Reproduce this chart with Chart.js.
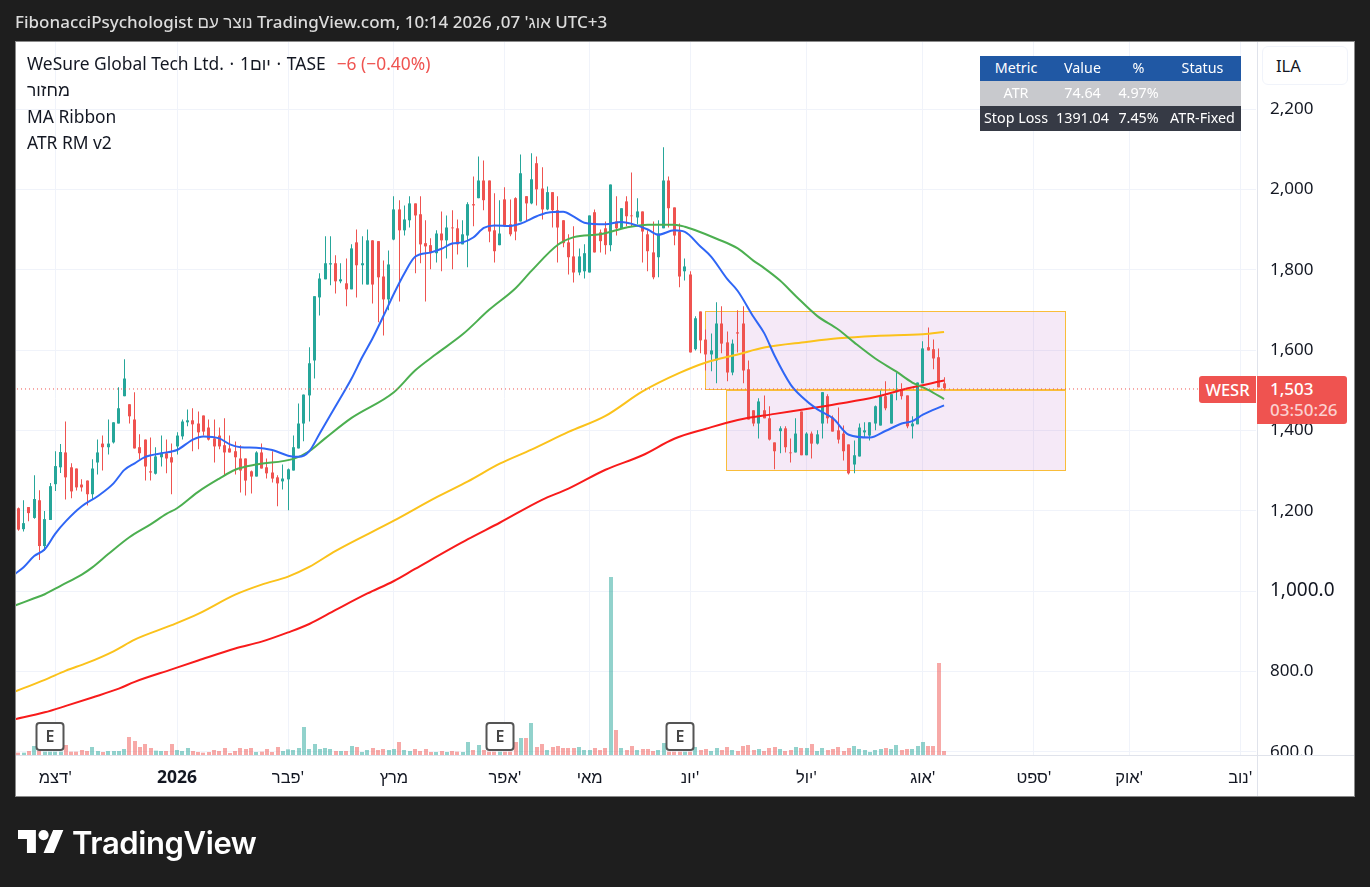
<!DOCTYPE html>
<html>
<head>
<meta charset="utf-8">
<script src="https://cdn.jsdelivr.net/npm/chart.js@4"></script>
<style>
html,body{margin:0;padding:0;width:1370px;height:887px;overflow:hidden;background:#1e1e1e;font-family:"Noto Sans","Liberation Sans",sans-serif;}
.abs{position:absolute;white-space:nowrap;}
#panel{left:15px;top:41px;width:1338px;height:754px;background:#fff;border:1px solid #8a8a8a;}
canvas{position:absolute;left:0;top:0;}
#title{left:15px;top:11px;color:#dcdcdc;font-size:17px;line-height:22px;font-weight:500;}
.leg{left:27px;color:#131722;font-size:17.4px;line-height:26px;}
.leg .chg{color:#ef5350;margin-left:11px;}
.leg .sep{margin:0 1.2px;}
.tb{position:absolute;height:25px;line-height:24px;text-align:center;font-size:14.3px;white-space:nowrap;}
.hd{background:#2058a4;color:#fff;}
.g{background:#c8c9cd;color:#fff;}
.dk{background:#363a45;color:#fff;}
</style>
</head>
<body>
<div class="abs" id="panel"></div>
<canvas id="c" width="1370" height="887"></canvas>

<div class="abs" id="title">FibonacciPsychologist נוצר עם TradingView.com, אוג' 07, 2026 10:14 UTC+3</div>
<div class="abs leg" style="top:50px">WeSure Global Tech Ltd. <span class="sep">·</span> 1יום <span class="sep">·</span> TASE<span class="chg">−6 (−0.40%)</span></div>
<div class="abs leg" style="top:76px">מחזור</div>
<div class="abs leg" style="top:103px">MA Ribbon</div>
<div class="abs leg" style="top:129px">ATR RM v2</div>

<div class="tb hd" style="left:980px;top:56px;width:72px">Metric</div>
<div class="tb hd" style="left:1052px;top:56px;width:61px">Value</div>
<div class="tb hd" style="left:1113px;top:56px;width:51px">%</div>
<div class="tb hd" style="left:1164px;top:56px;width:77px">Status</div>
<div class="tb g" style="left:980px;top:81px;width:72px">ATR</div>
<div class="tb g" style="left:1052px;top:81px;width:61px">74.64</div>
<div class="tb g" style="left:1113px;top:81px;width:51px">4.97%</div>
<div class="tb g" style="left:1164px;top:81px;width:77px"></div>
<div class="tb dk" style="left:980px;top:106px;width:72px">Stop Loss</div>
<div class="tb dk" style="left:1052px;top:106px;width:61px">1391.04</div>
<div class="tb dk" style="left:1113px;top:106px;width:51px">7.45%</div>
<div class="tb dk" style="left:1164px;top:106px;width:77px">ATR-Fixed</div>

<div class="abs" style="left:1257px;top:42px;width:1px;height:754px;background:#e0e3eb"></div>
<div class="abs" style="left:16px;top:755px;width:1338px;height:1px;background:#e0e3eb"></div>
<div class="abs" style="left:1258px;top:756px;width:96px;height:40px;background:#fff"></div>

<div class="abs" style="left:1262px;top:46px;width:84px;height:37px;border:1px solid #f0f3fa;border-radius:6px;background:#fff;color:#131722;font-size:16.5px;line-height:37px;text-indent:13px">ILA</div>

<div class="abs" style="left:1199px;top:376px;width:57px;height:27px;background:#ef5350;border-radius:3px 0 0 3px;color:#fff;font-size:16.5px;line-height:27px;text-align:center;font-weight:500">WESR</div>
<div class="abs" style="left:1257px;top:376px;width:90px;height:48px;background:#ef5350;border-radius:0 3px 3px 0;color:#fff;font-size:17px;font-weight:500">
  <div style="position:absolute;left:13px;top:2px;line-height:22px">1,503</div>
  <div style="position:absolute;left:13px;top:23px;line-height:22px;color:#fbd0cf">03:50:26</div>
</div>

<svg class="abs" style="left:18px;top:830px" width="46" height="23" viewBox="0 4 36 18"><path fill="#fff" d="M14 22H7V11H0V4h14v18zM28 22h-8l7.5-18h8L28 22z"/><circle fill="#fff" cx="20" cy="8" r="4"/></svg>
<div class="abs" style="left:72px;top:822px;color:#fff;font-size:31px;line-height:42px;font-weight:600;font-family:Inter,sans-serif;letter-spacing:-0.4px">TradingView</div>

<script>
const opens=[1204,1152,1207,1180,1224,1110,1175,1264,1306,1343,1306,1303,1263,1273,1239,1318,1365,1356,1368,1415,1483,1463,1425,1356,1375,1296,1290,1331,1341,1331,1358,1383,1418,1423,1415,1435,1405,1378,1385,1361,1353,1346,1328,1328,1296,1283,1343,1306,1293,1281,1271,1276,1298,1353,1415,1485,1572,1729,1774,1811,1814,1769,1764,
1749,1866,1809,1761,1871,1869,1781,1724,1873,1948,1896,1921,1963,1936,1864,1859,1839,1888,1871,1903,1901,1861,1883,1961,1976,2020,2020,1896,1859,1973,1911,1976,1918,1981,1963,2063,2000,1948,1991,1946,1921,1866,1831,1791,1794,1791,1941,1891,1901,1859,1918,1901,1968,1933,1928,1943,1886,
1841,1829,1901,2020,1953,1893,1794,1786,1600,1694,1624,1587,1572,1664,1617,1542,1642,1664,1550,1448,1415,1448,1428,1368,1396,1403,1343,1343,1445,1336,1390,1365,1415,1483,1430,1398,1390,1363,1313,1333,1393,1385,1415,1410,1483,1415,1493,1500,1485,1408,1413,1515,1605,1600,1580,1515];
const highs=[1206,1224,1207,1286,1249,1197,1267,1346,1364,1420,1316,1303,1276,1273,1326,1375,1385,1425,1418,1505,1575,1463,1493,1388,1375,1380,1356,1385,1375,1365,1393,1425,1450,1453,1445,1435,1425,1425,1405,1428,1385,1370,1361,1328,1298,1346,1365,1328,1346,1286,1313,1303,1385,1465,1487,1605,1732,1789,1881,1881,1834,1814,1826,
1861,1898,1881,1898,1871,1869,1821,1846,1981,1971,1958,1981,1963,1981,1921,1876,1896,1943,1933,1946,1923,1921,1966,2030,2080,2070,2020,1988,1971,2003,1973,1978,2085,1981,2088,2080,2053,2005,1991,1981,1921,1886,1906,1851,1861,1933,1948,1898,1918,2010,1981,1951,1981,2040,1976,1943,1896,
1918,1921,2103,2030,1953,1913,1826,1794,1682,1694,1649,1639,1717,1707,1644,1624,1697,1707,1572,1448,1478,1485,1458,1368,1408,1408,1378,1428,1445,1393,1395,1398,1493,1488,1435,1455,1410,1363,1373,1415,1418,1418,1460,1497,1520,1488,1542,1515,1485,1433,1517,1620,1654,1624,1602,1530];
const lows=[1148,1146,1172,1178,1075,1098,1175,1247,1292,1226,1229,1248,1246,1211,1226,1288,1298,1338,1365,1415,1483,1415,1353,1326,1273,1273,1288,1308,1291,1239,1338,1375,1408,1346,1351,1385,1373,1318,1351,1286,1343,1288,1243,1236,1241,1283,1303,1278,1268,1209,1251,1199,1298,1353,1371,1420,1527,1684,1774,1759,1739,1764,1707,
1749,1729,1761,1761,1714,1667,1634,1697,1871,1719,1883,1903,1789,1814,1719,1799,1816,1794,1826,1799,1836,1861,1804,1906,1976,1946,1866,1816,1859,1904,1881,1871,1918,1921,1961,1958,1923,1946,1903,1816,1854,1786,1766,1784,1776,1791,1841,1841,1836,1844,1883,1901,1906,1906,1911,1816,1794,
1774,1779,1901,1903,1859,1754,1771,1592,1597,1590,1547,1545,1515,1590,1520,1535,1592,1515,1425,1408,1378,1428,1373,1301,1341,1343,1318,1343,1336,1336,1328,1363,1378,1415,1395,1365,1323,1288,1291,1333,1380,1373,1398,1410,1448,1415,1473,1475,1403,1378,1413,1515,1597,1550,1505,1497];
const closes=[1151,1167,1192,1227,1110,1177,1259,1309,1344,1281,1246,1256,1256,1239,1303,1343,1356,1365,1418,1453,1527,1433,1353,1341,1308,1293,1333,1341,1328,1318,1385,1420,1423,1413,1393,1395,1375,1358,1358,1343,1343,1331,1298,1273,1283,1343,1303,1291,1278,1266,1278,1301,1356,1415,1487,1565,1732,1776,1814,1814,1769,1774,1749,
1851,1809,1814,1871,1761,1779,1724,1811,1948,1896,1923,1963,1933,1861,1856,1839,1888,1871,1903,1901,1861,1886,1961,1958,2020,1971,1893,1844,1888,1906,1886,1893,2038,1963,2023,1998,1948,1991,1946,1903,1864,1829,1791,1831,1839,1933,1841,1869,1859,2010,1901,1951,1931,1931,1943,1893,1844,
1779,1888,2020,1951,1883,1781,1806,1592,1677,1622,1587,1597,1664,1614,1542,1614,1639,1547,1425,1415,1470,1428,1375,1346,1403,1356,1341,1390,1336,1390,1365,1388,1493,1428,1395,1375,1346,1291,1336,1405,1398,1418,1458,1483,1453,1488,1498,1483,1408,1415,1517,1602,1597,1577,1505,1503];
const volumes=[7,7,12,27,12,10,10,10,10,30,10,10,15,12,24,12,9,12,12,12,18,54,42,24,33,21,13,12,12,33,15,12,21,12,9,7,9,15,12,21,6,12,21,18,21,9,10,18,9,24,12,17,15,21,84,18,33,18,21,18,12,12,12,27,24,9,15,21,15,18,15,18,39,15,12,18,12,18,9,9,12,9,12,10,9,39,15,30,15,10,10,10,10,10,39,51,51,96,24,33,15,24,27,21,21,21,24,15,15,21,15,21,534,75,21,15,27,15,18,18,12,15,36,10,10,10,10,10,24,15,18,12,21,15,24,15,12,27,30,15,18,12,21,24,18,12,15,24,21,21,33,12,21,15,18,24,12,21,27,18,15,9,15,18,21,18,30,15,18,18,27,39,27,27,276,12];

const blueX=[-1,1,3,5,7,9,12,15,18,20,22,24,27,30,33,35,38,40,42,45,48,51,53,55,57,59,61,63,65,67,69,71,73,75,78,80,82,84,86,88,90,93,95,98,100,103,105,107,111,114,116,119,121,124,126,129,131,134,136,139,141,143,146,148,151,154,157,161,164,167,169,171,175];
const blueY=[1037,1057,1085,1102,1141,1172,1209,1234,1266,1299,1316,1332,1341,1349,1375,1383,1378,1363,1356,1355,1349,1335,1332,1346,1391,1436,1481,1527,1580,1628,1682,1738,1789,1830,1841,1850,1863,1866,1878,1902,1908,1907,1913,1931,1940,1942,1930,1915,1911,1917,1912,1898,1885,1896,1892,1855,1830,1775,1745,1680,1640,1583,1512,1483,1451,1428,1387,1380,1397,1415,1421,1437,1460];
const greenX=[-1,3,5,8,12,14,17,21,25,28,30,34,38,41,45,52,55,58,63,71,75,79,84,89,94,97,102,105,110,115,119,124,126,128,132,136,139,141,144,147,151,155,158,162,166,169,172,175];
const greenY=[960,980,990,1011,1039,1057,1090,1132,1164,1190,1204,1245,1278,1300,1313,1327,1346,1378,1429,1493,1547,1588,1637,1698,1752,1795,1860,1879,1886,1903,1910,1910,1905,1896,1875,1851,1820,1802,1771,1732,1683,1649,1617,1577,1544,1517,1499,1476];
const yellowX=[-1,5,9,13,18,22,29,34,41,46,51,55,60,71,79,85,91,97,104,111,118,125,130,136,141,149,155,162,171,175];
const yellowY=[746,777,800,819,848,877,913,941,989,1014,1034,1058,1098,1173,1231,1271,1315,1350,1394,1434,1495,1541,1567,1587,1604,1618,1627,1633,1637,1643];
const redX=[-1,5,9,14,19,22,29,34,41,46,51,55,60,66,71,75,85,91,99,104,111,118,124,130,136,143,149,155,162,168,175];
const redY=[678,696,712,733,755,772,803,825,855,872,895,916,951,992,1023,1053,1127,1168,1225,1253,1300,1336,1377,1402,1424,1439,1451,1464,1481,1502,1522];

const priceTicks=[600,800,1000,1200,1400,1600,1800,2000,2200];
const priceLabels=['600.0','800.0','1,000.0','1,200','1,400','1,600','1,800','2,000','2,200'];
const monthTicks=[7,30,51,71,92,108,127,149,171,192,210,231];
const monthLabels=["דצמ'","2026","פבר'","מרץ","אפר'","מאי","יונ'","יול'","אוג'","ספט'","אוק'","נוב'"];
const earningsBars=[6,91,125];
const zoneBoxes=[[130,198,1695,1500],[134,198,1498,1299]];
const lastPrice=1503;
const priceLineEnd=223;
const READ_OFFSET=2; // calibration of the picture-read prices against the price axis

const FONT='"Noto Sans","Liberation Sans",sans-serif';
const UP='#26a69a',DOWN='#ef5350';
const candleColor=closes.map((c,i)=>c>=opens[i]?UP:DOWN);
const volColor=closes.map((c,i)=>c>=opens[i]?'rgba(38,166,154,0.5)':'rgba(239,83,80,0.5)');
const pts=(xs,ys)=>xs.map((x,i)=>({x,y:ys[i]+READ_OFFSET}));
const ln=(label,xs,ys,color)=>({type:'line',label,data:pts(xs,ys),borderColor:color,borderWidth:2,pointRadius:0,cubicInterpolationMode:'monotone',order:2,yAxisID:'y',xAxisID:'x'});

const snapBars={id:'snapBars',afterDatasetsUpdate(chart){
  chart.data.datasets.forEach((d,i)=>{
    if(d.type!=='bar')return;
    chart.getDatasetMeta(i).data.forEach(el=>{
      el.x=d.barThickness%2===1?Math.floor(el.x)+0.5:Math.round(el.x);
    });
  });
}};
const zones={id:'zones',beforeDatasetsDraw(chart){
  const {ctx,scales:{x,y}}=chart;
  ctx.save();
  zoneBoxes.forEach(([a,b,t,u])=>{
    const l=Math.round(x.getPixelForValue(a))-0.5,r=Math.round(x.getPixelForValue(b))-0.5;
    const tp=Math.round(y.getPixelForValue(t))-0.5,bt=Math.round(y.getPixelForValue(u))-0.5;
    ctx.fillStyle='rgba(156,39,176,0.1)';
    ctx.fillRect(l,tp,r-l,bt-tp);
    ctx.strokeStyle='#f9bd3a';ctx.lineWidth=1;
    ctx.strokeRect(l,tp,r-l,bt-tp);
  });
  ctx.restore();
}};
const earnings={id:'earnings',afterDatasetsDraw(chart){
  const {ctx,scales:{x}}=chart;
  ctx.save();
  earningsBars.forEach(i=>{
    const cx=Math.round(x.getPixelForValue(i));
    ctx.beginPath();ctx.roundRect(cx-13.5,723,27,27,3);
    ctx.fillStyle='#fff';ctx.fill();
    ctx.strokeStyle='#555';ctx.lineWidth=2;ctx.stroke();
    ctx.fillStyle='#444';ctx.font='600 16px '+FONT;
    ctx.textAlign='center';ctx.textBaseline='middle';
    ctx.fillText('E',cx,737);
  });
  ctx.restore();
}};

new Chart(document.getElementById('c'),{
  data:{datasets:[
    {type:'line',label:'Last',data:[{x:-1,y:lastPrice},{x:priceLineEnd,y:lastPrice}],borderColor:'#ef5350',borderWidth:1,borderDash:[1,3],pointRadius:0,order:1,yAxisID:'y',xAxisID:'x'},
    ln('MA20',blueX,blueY,'#2f66f5'),
    ln('MA50',greenX,greenY,'#4caf50'),
    ln('MA100',yellowX,yellowY,'#fbc21b'),
    ln('MA200',redX,redY,'#f81b1b'),
    {type:'bar',label:'Body',grouped:false,barThickness:3,inflateAmount:0,data:opens.map((o,i)=>({x:i,y:[o+READ_OFFSET,closes[i]+READ_OFFSET]})),backgroundColor:candleColor,order:3,yAxisID:'y',xAxisID:'x'},
    {type:'bar',label:'Wick',grouped:false,barThickness:1,inflateAmount:0,data:highs.map((h,i)=>({x:i,y:[lows[i]+READ_OFFSET,h+READ_OFFSET]})),backgroundColor:candleColor,order:4,yAxisID:'y',xAxisID:'x'},
    {type:'bar',label:'Volume',grouped:false,barThickness:4,inflateAmount:0,data:volumes.map((v,i)=>({x:i,y:v})),backgroundColor:volColor,order:5,yAxisID:'v',xAxisID:'x'}
  ]},
  plugins:[snapBars,zones,earnings],
  options:{
    responsive:false,animation:false,devicePixelRatio:1,
    layout:{padding:{left:16,top:42,right:0,bottom:0}},
    plugins:{legend:{display:false},tooltip:{enabled:false},title:{display:false}},
    scales:{
      x:{type:'linear',position:'bottom',min:-0.435,max:233.97,offset:false,
        afterBuildTicks(s){s.ticks=monthTicks.map(v=>({value:v}));},
        afterFit(s){s.height=132;},
        border:{display:false},
        grid:{color:'#f0f3fa',drawTicks:false,lineWidth:1,offset:false},
        ticks:{autoSkip:false,maxRotation:0,padding:13,color:'#131722',
          font:c=>{const y26=c.tick&&c.tick.value===30;return {family:FONT,size:y26?17.5:16.5,weight:y26?'bold':'normal'};},
          callback:v=>monthLabels[monthTicks.indexOf(v)]}},
      y:{type:'linear',position:'right',min:591.8,max:2366.8,
        afterBuildTicks(s){s.ticks=priceTicks.map(v=>({value:v}));},
        afterFit(s){s.width=114;},
        border:{display:false},
        grid:{color:'#f0f3fa',drawTicks:false,lineWidth:1},
        ticks:{autoSkip:false,padding:14,color:'#131722',
          font:c=>({family:FONT,size:c.tick&&c.tick.value===1000?19:17}),
          callback:v=>priceLabels[priceTicks.indexOf(v)]}},
      v:{type:'linear',display:false,min:0,max:2139}
    }
  }
});
</script>
</body>
</html>
